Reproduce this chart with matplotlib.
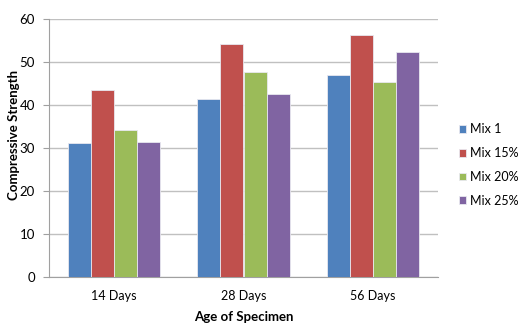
import numpy as np
import matplotlib.pyplot as plt

plt.rcParams['font.family'] = ['Lato', 'DejaVu Sans']

ages = ['14 Days', '28 Days', '56 Days']
mixes = ['Mix 1', 'Mix 15%', 'Mix 20%', 'Mix 25%']
mix_1 = [31.2, 41.3, 47.0]
mix_15 = [43.6, 54.1, 56.3]
mix_20 = [34.2, 47.7, 45.3]
mix_25 = [31.5, 42.6, 52.3]
colors = ['#4F81BD', '#C0504D', '#9BBB59', '#8064A2']

fig = plt.figure(figsize=(5.26, 3.30), dpi=100)
ax = fig.add_axes([49 / 526, 53 / 330, 389 / 526, 258 / 330])

x = np.arange(len(ages))
w = 0.178
for i, vals in enumerate([mix_1, mix_15, mix_20, mix_25]):
    ax.bar(x + (i - 1.5) * w, vals, w, color=colors[i], label=mixes[i],
           edgecolor='#e8e8f0', linewidth=0.6, zorder=3)

ax.set_xlim(-0.5, 2.5)
ax.set_ylim(0, 60)
ax.set_yticks(range(0, 61, 10))
ax.set_xticks(x)
ax.set_xticklabels(ages)
ax.grid(axis='y', color='#c0c0c0', linewidth=1, zorder=0)
for s in ['top', 'right']:
    ax.spines[s].set_visible(False)
ax.spines['left'].set_color('#a0a0a0')
ax.spines['bottom'].set_color('#a0a0a0')
ax.tick_params(axis='y', length=4, color='#a0a0a0', labelsize=9.5, pad=6)
ax.tick_params(axis='x', length=0, labelsize=9, pad=9)

ax.set_ylabel('Compressive Strength', fontsize=9.5, fontweight='bold')
ax.yaxis.set_label_coords(-0.074, 0.55)
ax.set_xlabel('Age of Specimen', fontsize=9.5, fontweight='bold', labelpad=7)

ax.legend(loc='upper left', bbox_to_anchor=(1.025, 0.64), frameon=False,
          fontsize=9, handlelength=0.6, handleheight=0.6, handletextpad=0.3,
          labelspacing=0.95)

fig.savefig('out.png', dpi=100)
